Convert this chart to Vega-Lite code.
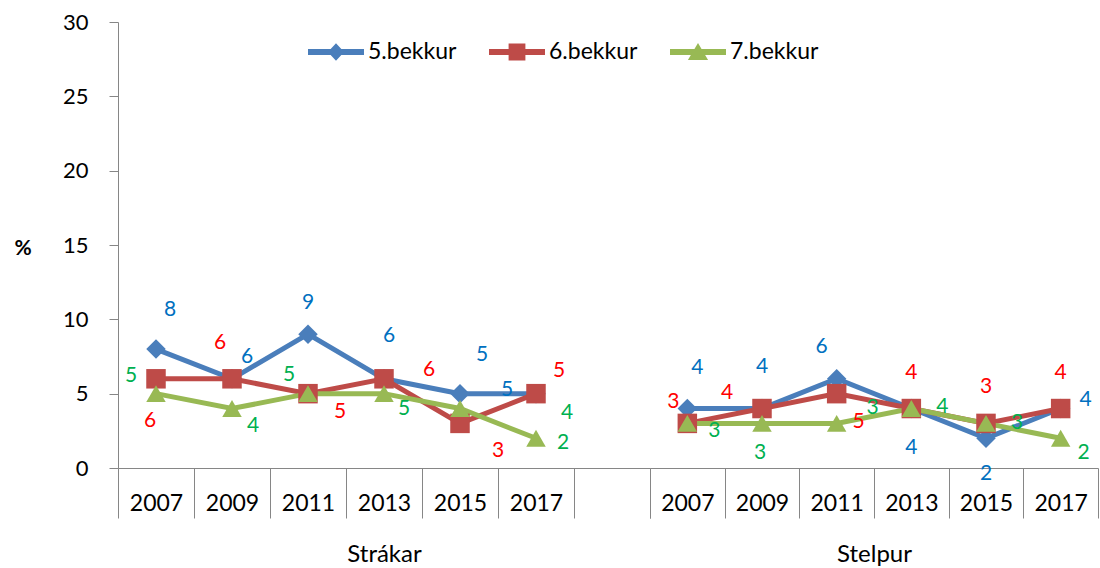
{
  "$schema": "https://vega.github.io/schema/vega-lite/v6.json",
  "background": "white",
  "padding": {"left": 14, "top": 11, "right": 0, "bottom": 0},
  "config": {"font": "Lato", "view": {"stroke": null}},
  "datasets": {
    "d": [
      {"g": "Strákar", "year": "2007", "s": "5.bekkur", "v": 8},
      {"g": "Strákar", "year": "2009", "s": "5.bekkur", "v": 6},
      {"g": "Strákar", "year": "2011", "s": "5.bekkur", "v": 9},
      {"g": "Strákar", "year": "2013", "s": "5.bekkur", "v": 6},
      {"g": "Strákar", "year": "2015", "s": "5.bekkur", "v": 5},
      {"g": "Strákar", "year": "2017", "s": "5.bekkur", "v": 5},
      {"g": "Strákar", "year": "2007", "s": "6.bekkur", "v": 6},
      {"g": "Strákar", "year": "2009", "s": "6.bekkur", "v": 6},
      {"g": "Strákar", "year": "2011", "s": "6.bekkur", "v": 5},
      {"g": "Strákar", "year": "2013", "s": "6.bekkur", "v": 6},
      {"g": "Strákar", "year": "2015", "s": "6.bekkur", "v": 3},
      {"g": "Strákar", "year": "2017", "s": "6.bekkur", "v": 5},
      {"g": "Strákar", "year": "2007", "s": "7.bekkur", "v": 5},
      {"g": "Strákar", "year": "2009", "s": "7.bekkur", "v": 4},
      {"g": "Strákar", "year": "2011", "s": "7.bekkur", "v": 5},
      {"g": "Strákar", "year": "2013", "s": "7.bekkur", "v": 5},
      {"g": "Strákar", "year": "2015", "s": "7.bekkur", "v": 4},
      {"g": "Strákar", "year": "2017", "s": "7.bekkur", "v": 2},
      {"g": "Stelpur", "year": "2007", "s": "5.bekkur", "v": 4},
      {"g": "Stelpur", "year": "2009", "s": "5.bekkur", "v": 4},
      {"g": "Stelpur", "year": "2011", "s": "5.bekkur", "v": 6},
      {"g": "Stelpur", "year": "2013", "s": "5.bekkur", "v": 4},
      {"g": "Stelpur", "year": "2015", "s": "5.bekkur", "v": 2},
      {"g": "Stelpur", "year": "2017", "s": "5.bekkur", "v": 4},
      {"g": "Stelpur", "year": "2007", "s": "6.bekkur", "v": 3},
      {"g": "Stelpur", "year": "2009", "s": "6.bekkur", "v": 4},
      {"g": "Stelpur", "year": "2011", "s": "6.bekkur", "v": 5},
      {"g": "Stelpur", "year": "2013", "s": "6.bekkur", "v": 4},
      {"g": "Stelpur", "year": "2015", "s": "6.bekkur", "v": 3},
      {"g": "Stelpur", "year": "2017", "s": "6.bekkur", "v": 4},
      {"g": "Stelpur", "year": "2007", "s": "7.bekkur", "v": 3},
      {"g": "Stelpur", "year": "2009", "s": "7.bekkur", "v": 3},
      {"g": "Stelpur", "year": "2011", "s": "7.bekkur", "v": 3},
      {"g": "Stelpur", "year": "2013", "s": "7.bekkur", "v": 4},
      {"g": "Stelpur", "year": "2015", "s": "7.bekkur", "v": 3},
      {"g": "Stelpur", "year": "2017", "s": "7.bekkur", "v": 2}
    ]
  },
  "spacing": 0,
  "bounds": "flush",
  "resolve": {"scale": {"color": "shared"}},
  "hconcat": [
    {
      "width": 532,
      "height": 446,
      "data": {"name": "d"},
      "transform": [{"filter": "datum.g === 'Strákar'"}],
      "encoding": {
        "x": {
          "field": "year", "type": "ordinal", "bandPosition": 0.5,
          "scale": {"type": "band", "domain": ["2007", "2009", "2011", "2013", "2015", "2017", " "], "paddingInner": 0, "paddingOuter": 0},
          "axis": {
            "title": "Strákar", "titleY": 86, "titleBaseline": "middle", "titleFontSize": 24, "titleFontWeight": "normal", "titleColor": "black", "titleFont": "Lato",
            "labelFontSize": 23, "labelColor": "black", "labelAngle": 0, "labelPadding": -15, "labelBaseline": "middle", "labelFont": "Lato",
            "tickBand": "extent", "tickSize": 50, "tickColor": "#868686", "domainColor": "#868686", "tickWidth": 1, "domainWidth": 1, "grid": false,
            "encode": {"ticks": {"update": {"y2": {"signal": "datum.value === '2007' ? 100 : 50"}}}}
          }
        },
        "y": {
          "field": "v", "type": "quantitative",
          "scale": {"domain": [0, 30], "nice": false},
          "axis": {
            "title": "%", "titleAngle": 0, "titleAlign": "left", "titleBaseline": "middle", "titleX": -104, "titleY": 226,
            "titleFontSize": 21, "titleFontWeight": "bold", "titleColor": "black", "titleFont": "Lato",
            "values": [0, 5, 10, 15, 20, 25, 30], "labelFontSize": 22, "labelColor": "black", "labelPadding": 21, "labelFont": "Lato",
            "tickSize": 9, "tickColor": "#868686", "domainColor": "#868686", "grid": false
          }
        }
      },
      "layer": [
        {
          "mark": {"type": "line", "strokeWidth": 5},
          "encoding": {
            "color": {
              "field": "s", "type": "nominal",
              "scale": {"domain": ["5.bekkur", "6.bekkur", "7.bekkur"], "range": ["#4A7EBB", "#BE4B48", "#98B954"]},
              "legend": {
                "orient": "none", "legendX": 190, "legendY": 2, "direction": "horizontal", "title": null,
                "labelFontSize": 23, "labelColor": "black", "labelFont": "Lato", "symbolSize": 3136, "columnPadding": 32, "labelOffset": 4,
                "symbolStrokeWidth": 0, "symbolType": "M-1,-0.107H1V0.107H-1Z",
                "encode": {"symbols": {"update": {
                  "shape": {"signal": "datum.value === '5.bekkur' ? 'M-1,-0.107H1V0.107H-1ZM0,-0.31L0.29,0L0,0.31L-0.29,0Z' : datum.value === '6.bekkur' ? 'M-1,-0.107H1V0.107H-1ZM-0.3,-0.3H0.3V0.3H-0.3Z' : 'M-1,-0.107H1V0.107H-1ZM0,-0.32L0.36,0.29H-0.36Z'"},
                  "fill": {"signal": "scale('color', datum.value)"},
                  "opacity": {"value": 1},
                  "strokeWidth": {"value": 0}
                }}}
              }
            }
          }
        },
        {
          "transform": [{"filter": "datum.s === '5.bekkur'"}],
          "mark": {"type": "point", "filled": true, "opacity": 1, "size": 380, "shape": "diamond", "color": "#4A7EBB"}
        },
        {
          "transform": [{"filter": "datum.s === '6.bekkur'"}],
          "mark": {"type": "point", "filled": true, "opacity": 1, "size": 380, "shape": "square", "color": "#BE4B48"}
        },
        {
          "transform": [{"filter": "datum.s === '7.bekkur'"}],
          "mark": {"type": "point", "filled": true, "opacity": 1, "size": 380, "shape": "triangle-up", "color": "#98B954"}
        },
        {
          "transform": [{"filter": "datum.s === '5.bekkur'"}],
          "mark": {"type": "text", "fontSize": 21, "color": "#0070C0", "font": "Lato",
            "dx": {"expr": "[14,15,0,5,22,-29][indexof(['2007','2009','2011','2013','2015','2017'], datum.year)]"},
            "dy": {"expr": "[-39,-22,-31,-43,-39,-4][indexof(['2007','2009','2011','2013','2015','2017'], datum.year)]"}},
          "encoding": {"text": {"field": "v", "type": "quantitative"}}
        },
        {
          "transform": [{"filter": "datum.s === '6.bekkur'"}],
          "mark": {"type": "text", "fontSize": 21, "color": "#FF0000", "font": "Lato",
            "dx": {"expr": "[-6,-12,32,45,38,23][indexof(['2007','2009','2011','2013','2015','2017'], datum.year)]"},
            "dy": {"expr": "[42,-36,18,-9,28,-23][indexof(['2007','2009','2011','2013','2015','2017'], datum.year)]"}},
          "encoding": {"text": {"field": "v", "type": "quantitative"}}
        },
        {
          "transform": [{"filter": "datum.s === '7.bekkur'"}],
          "mark": {"type": "text", "fontSize": 21, "color": "#00B050", "font": "Lato",
            "dx": {"expr": "[-25,21,-19,20,107,27][indexof(['2007','2009','2011','2013','2015','2017'], datum.year)]"},
            "dy": {"expr": "[-18,17,-19,15,4,5][indexof(['2007','2009','2011','2013','2015','2017'], datum.year)]"}},
          "encoding": {"text": {"field": "v", "type": "quantitative"}}
        }
      ]
    },
    {
      "width": 448,
      "height": 446,
      "data": {"name": "d"},
      "transform": [{"filter": "datum.g === 'Stelpur'"}],
      "encoding": {
        "x": {
          "field": "year", "type": "ordinal", "bandPosition": 0.5,
          "scale": {"type": "band", "domain": ["2007", "2009", "2011", "2013", "2015", "2017"], "paddingInner": 0, "paddingOuter": 0},
          "axis": {
            "title": "Stelpur", "titleY": 86, "titleBaseline": "middle", "titleFontSize": 24, "titleFontWeight": "normal", "titleColor": "black", "titleFont": "Lato",
            "labelFontSize": 23, "labelColor": "black", "labelAngle": 0, "labelPadding": -15, "labelBaseline": "middle", "labelFont": "Lato",
            "tickBand": "extent", "tickSize": 50, "tickColor": "#868686", "domainColor": "#868686", "tickWidth": 1, "domainWidth": 1, "grid": false,
            "encode": {"ticks": {"update": {"y2": {"signal": "datum.extra ? 0 : (datum.value === '2007' ? 100 : 50)"}}}}
          }
        },
        "y": {
          "field": "v", "type": "quantitative",
          "scale": {"domain": [0, 30], "nice": false},
          "axis": null
        }
      },
      "layer": [
        {
          "mark": {"type": "line", "strokeWidth": 5},
          "encoding": {"color": {"field": "s", "type": "nominal"}}
        },
        {
          "transform": [{"filter": "datum.s === '5.bekkur'"}],
          "mark": {"type": "point", "filled": true, "opacity": 1, "size": 380, "shape": "diamond", "color": "#4A7EBB"}
        },
        {
          "transform": [{"filter": "datum.s === '6.bekkur'"}],
          "mark": {"type": "point", "filled": true, "opacity": 1, "size": 380, "shape": "square", "color": "#BE4B48"}
        },
        {
          "transform": [{"filter": "datum.s === '7.bekkur'"}],
          "mark": {"type": "point", "filled": true, "opacity": 1, "size": 380, "shape": "triangle-up", "color": "#98B954"}
        },
        {
          "transform": [{"filter": "datum.s === '5.bekkur'"}],
          "mark": {"type": "text", "fontSize": 21, "color": "#0070C0", "font": "Lato",
            "dx": {"expr": "[10,0,-15,0,0,25][indexof(['2007','2009','2011','2013','2015','2017'], datum.year)]"},
            "dy": {"expr": "[-41,-42,-32,39,36,-9][indexof(['2007','2009','2011','2013','2015','2017'], datum.year)]"}},
          "encoding": {"text": {"field": "v", "type": "quantitative"}}
        },
        {
          "transform": [{"filter": "datum.s === '6.bekkur'"}],
          "mark": {"type": "text", "fontSize": 21, "color": "#FF0000", "font": "Lato",
            "dx": {"expr": "[-14,-35,22,0,0,0][indexof(['2007','2009','2011','2013','2015','2017'], datum.year)]"},
            "dy": {"expr": "[-21,-16,28,-36,-36,-36][indexof(['2007','2009','2011','2013','2015','2017'], datum.year)]"}},
          "encoding": {"text": {"field": "v", "type": "quantitative"}}
        },
        {
          "transform": [{"filter": "datum.s === '7.bekkur'"}],
          "mark": {"type": "text", "fontSize": 21, "color": "#00B050", "font": "Lato",
            "dx": {"expr": "[27,-2,36,31,31,23][indexof(['2007','2009','2011','2013','2015','2017'], datum.year)]"},
            "dy": {"expr": "[8,30,-15,-2,0,15][indexof(['2007','2009','2011','2013','2015','2017'], datum.year)]"}},
          "encoding": {"text": {"field": "v", "type": "quantitative"}}
        }
      ]
    }
  ]
}
